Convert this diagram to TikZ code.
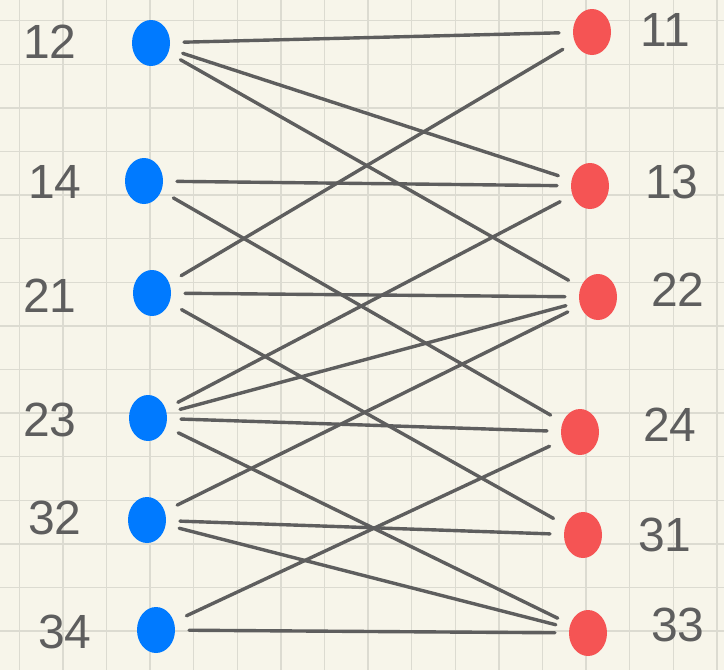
\documentclass[tikz,border=0pt]{standalone}
\usepackage{fontspec}
\setmainfont{Liberation Sans}
\usetikzlibrary{shapes.geometric}
\definecolor{paper}{HTML}{F7F5EA}
\definecolor{gridc}{HTML}{DCDBD1}
\definecolor{dotblue}{HTML}{007AFF}
\definecolor{dotred}{HTML}{F55454}
\definecolor{ink}{HTML}{5E5E5E}
\begin{document}
\begin{tikzpicture}[x=1pt,y=-1pt,
  dotbase/.style={ellipse, inner sep=0pt, minimum width=38pt, minimum height=46pt, outer sep=14pt},
  bdot/.style={dotbase, fill=dotblue},
  rdot/.style={dotbase, fill=dotred},
  lab/.style={text=ink, font=\fontsize{48}{48}\selectfont, inner sep=0pt},
  edge/.style={ink, line width=3.4pt, line cap=round, line join=round}]
\fill[paper] (0,0) rectangle (724,670);
\useasboundingbox (0,0) rectangle (724,670);
\foreach \i in {0,...,16} \draw[gridc, line width=1.4pt] ({19.2+43.6*\i},0) -- ({19.2+43.6*\i},670);
\foreach \i in {0,...,14} \draw[gridc, line width=1.4pt] (0,{20.7+43.6*\i}) -- (724,{20.7+43.6*\i});
% left (blue) nodes
\node[bdot] (n12) at (151,43) {};
\node[bdot] (n14) at (144,181) {};
\node[bdot] (n21) at (152,293) {};
\node[bdot] (n23) at (148,418) {};
\node[bdot] (n32) at (147,520) {};
\node[bdot] (n34) at (156,630) {};
% right (red) nodes
\node[rdot] (n11) at (592,32) {};
\node[rdot] (n13) at (590,186) {};
\node[rdot] (n22) at (598,297) {};
\node[rdot] (n24) at (580,432) {};
\node[rdot] (n31) at (583,535) {};
\node[rdot] (n33) at (588,633) {};
% labels
\node[lab] (l12) at (50,42) {12};
\node[lab] (l14) at (55,182) {14};
\node[lab] (l21) at (50,296) {21};
\node[lab] (l23) at (50,420) {23};
\node[lab] (l32) at (55,518) {32};
\node[lab] (l34) at (65,632) {34};
\node[lab] (l11) at (665,30) {11};
\node[lab] (l13) at (672,182) {13};
\node[lab] (l22) at (678,290) {22};
\node[lab] (l24) at (670,425) {24};
\node[lab] (l31) at (665,535) {31};
\node[lab] (l33) at (678,625) {33};
% edges
\draw[edge] (n12) -- (n11);
\draw[edge] (n12) -- (n13);
\draw[edge] (n12) -- (n22);
\draw[edge] (n14) -- (n13);
\draw[edge] (n14) -- (n24);
\draw[edge] (n21) -- (n11);
\draw[edge] (n21) -- (n22);
\draw[edge] (n21) -- (n31);
\draw[edge] (n23) -- (n13);
\draw[edge] (n23) -- (n22);
\draw[edge] (n23) -- (n24);
\draw[edge] (n23) -- (n33);
\draw[edge] (n32) -- (n22);
\draw[edge] (n32) -- (n31);
\draw[edge] (n32) -- (n33);
\draw[edge] (n34) -- (n24);
\draw[edge] (n34) -- (n33);
\end{tikzpicture}
\end{document}
